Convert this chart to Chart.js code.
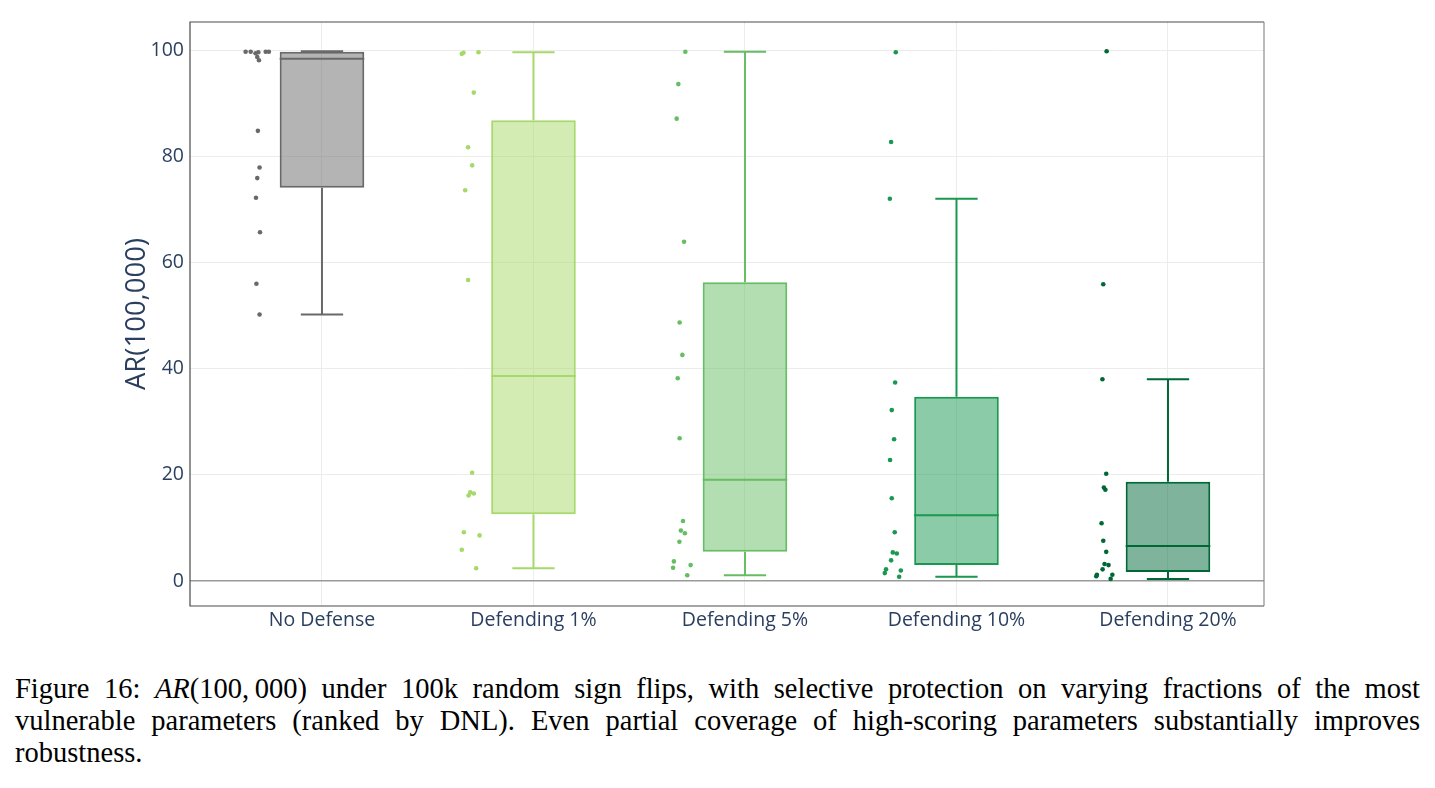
<!DOCTYPE html>
<html>
<head>
<meta charset="utf-8">
<script src="https://cdn.jsdelivr.net/npm/chart.js@4.4.1/dist/chart.umd.min.js"></script>
<style>
  body { margin: 0; background: #fff; width: 1435px; height: 788px; overflow: hidden; position: relative; }
  #wrap { position: absolute; left: 0; top: 0; width: 1435px; height: 640px; }
  #caption {
    position: absolute; left: 15px; top: 673px; width: 1405px;
    font-family: "Liberation Serif", "Times New Roman", serif;
    font-size: 28.5px; line-height: 32px; color: #000;
  }
  #caption div { text-align: justify; text-align-last: justify; white-space: nowrap; }
  #caption div.last { text-align-last: left; }
</style>
</head>
<body>
<div id="wrap"><canvas id="grafico"></canvas></div>
<div id="caption">
  <div>Figure 16: <i>AR</i>(100,&thinsp;000) under 100k random sign flips, with selective protection on varying fractions of the most</div>
  <div>vulnerable parameters (ranked by DNL). Even partial coverage of high-scoring parameters substantially improves</div>
  <div class="last">robustness.</div>
</div>
<script>
// categorias y colores de linea
const categorias = ['No Defense', 'Defending 1%', 'Defending 5%', 'Defending 10%', 'Defending 20%'];
const colores = ['#696969', '#a6d96a', '#66bd63', '#1a9850', '#006837'];
const rellenos = ['rgba(105,105,105,0.5)', 'rgba(166,217,106,0.5)', 'rgba(102,189,99,0.5)', 'rgba(26,152,80,0.5)', 'rgba(0,104,55,0.5)'];

// estadisticas de cada caja
const bigoteBajo = [50.2, 2.4, 1.1, 0.8, 0.4];
const q1 = [74.1, 12.6, 5.5, 3.0, 1.7];
const mediana = [98.4, 38.6, 19.1, 12.4, 6.6];
const q3 = [99.7, 86.8, 56.3, 34.7, 18.7];
const bigoteAlto = [99.8, 99.6, 99.7, 72.0, 38.0];

// puntos individuales
const puntosNoDef = [99.7, 99.7, 99.4, 99.6, 99.7, 99.7, 98.7, 98.1, 84.8, 77.9, 75.9, 72.2, 65.7, 56.0, 50.2];
const puntosD1 = [99.3, 99.5, 99.6, 92.0, 81.7, 78.3, 73.6, 56.7, 20.4, 16.7, 16.1, 16.5, 9.2, 8.6, 5.9, 2.4];
const puntosD5 = [99.7, 93.6, 87.1, 63.9, 48.7, 42.6, 38.2, 26.9, 11.3, 9.5, 9.0, 7.4, 3.7, 2.5, 3.0, 1.1];
const puntosD10 = [99.6, 82.7, 72.0, 37.4, 32.2, 26.7, 22.8, 15.6, 9.2, 5.4, 5.2, 3.9, 2.2, 1.5, 2.0, 0.8];
const puntosD20 = [99.8, 55.9, 38.0, 20.2, 17.6, 17.2, 10.9, 7.6, 5.5, 3.2, 3.0, 2.2, 1.2, 0.9, 1.2, 0.4];

// desplazamiento horizontal (jitter) de cada punto, en unidades de categoria
const jitterNoDef = [-0.361, -0.337, -0.314, -0.301, -0.266, -0.251, -0.306, -0.298, -0.303, -0.295, -0.306, -0.312, -0.293, -0.310, -0.295];
const jitterD1 = [-0.339, -0.331, -0.260, -0.282, -0.309, -0.290, -0.323, -0.309, -0.290, -0.299, -0.307, -0.282, -0.329, -0.255, -0.339, -0.271];
const jitterD5 = [-0.282, -0.315, -0.323, -0.288, -0.309, -0.296, -0.318, -0.309, -0.293, -0.303, -0.284, -0.310, -0.336, -0.340, -0.257, -0.273];
const jitterD10 = [-0.287, -0.309, -0.315, -0.290, -0.306, -0.295, -0.314, -0.306, -0.292, -0.301, -0.282, -0.309, -0.333, -0.339, -0.263, -0.271];
const jitterD20 = [-0.290, -0.306, -0.310, -0.292, -0.303, -0.296, -0.314, -0.306, -0.292, -0.300, -0.281, -0.309, -0.336, -0.339, -0.263, -0.271];

const yTicks = [0, 20, 40, 60, 80, 100];

const puntos = [puntosNoDef, puntosD1, puntosD5, puntosD10, puntosD20];
const jitters = [jitterNoDef, jitterD1, jitterD5, jitterD10, jitterD20];

const fuente = '"Open Sans", "Noto Sans", sans-serif';
const colorTexto = '#2a3f5f';

// Funcion para armar las lineas de mediana y bigotes de una caja
function lineasCaja(i) {
    const corte = { x: i, y: null };
    return [
        { x: i - 0.2, y: mediana[i] }, { x: i + 0.2, y: mediana[i] }, corte,
        { x: i, y: q3[i] }, { x: i, y: bigoteAlto[i] }, corte,
        { x: i - 0.1, y: bigoteAlto[i] }, { x: i + 0.1, y: bigoteAlto[i] }, corte,
        { x: i, y: q1[i] }, { x: i, y: bigoteBajo[i] }, corte,
        { x: i - 0.1, y: bigoteBajo[i] }, { x: i + 0.1, y: bigoteBajo[i] }
    ];
}

const datasets = [];

// puntos (encima de todo)
categorias.forEach((c, i) => {
    datasets.push({
        type: 'scatter',
        label: c + ' puntos',
        data: puntos[i].map((v, k) => ({ x: i + jitters[i][k], y: v })),
        backgroundColor: colores[i],
        borderWidth: 0,
        pointRadius: 2.3,
        order: 0
    });
});

// mediana y bigotes
categorias.forEach((c, i) => {
    datasets.push({
        type: 'line',
        label: c + ' bigotes',
        data: lineasCaja(i),
        borderColor: colores[i],
        borderWidth: 2,
        pointRadius: 0,
        spanGaps: false,
        fill: false,
        order: 1
    });
});

// cajas (q1 - q3)
datasets.push({
    type: 'bar',
    label: 'cajas',
    data: categorias.map((c, i) => ({ x: i, y: [q1[i], q3[i]] })),
    backgroundColor: rellenos,
    borderColor: colores,
    borderWidth: 2,
    borderSkipped: false,
    categoryPercentage: 1,
    barPercentage: 0.4,
    order: 2
});

const marco = {
    id: 'marco',
    afterDraw(chart) {
        const { ctx, chartArea: a } = chart;
        ctx.save();
        ctx.lineWidth = 1.2;
        ctx.strokeStyle = '#4a4a4a';
        ctx.beginPath();
        ctx.moveTo(a.right, a.top);
        ctx.lineTo(a.left, a.top);
        ctx.lineTo(a.left, a.bottom);
        ctx.lineTo(a.right, a.bottom);
        ctx.stroke();
        ctx.strokeStyle = '#8c8c8c';
        ctx.beginPath();
        ctx.moveTo(a.right, a.top);
        ctx.lineTo(a.right, a.bottom);
        ctx.stroke();
        ctx.restore();
    }
};

const ctx = document.getElementById('grafico').getContext('2d');
const chart = new Chart(ctx, {
    type: 'bar',
    data: { datasets: datasets },
    options: {
        responsive: true,
        maintainAspectRatio: false,
        animation: false,
        layout: { padding: { left: 121, right: 171, top: 22, bottom: 0 } },
        plugins: {
            legend: { display: false },
            tooltip: { enabled: false }
        },
        scales: {
            x: {
                type: 'linear',
                min: -0.624,
                max: 4.454,
                offset: false,
                grid: { color: '#ececec', lineWidth: 1, drawTicks: false, offset: false },
                border: { display: false },
                afterBuildTicks: scale => { scale.ticks = categorias.map((c, i) => ({ value: i })); },
                afterFit: scale => { scale.height = 34; },
                ticks: {
                    padding: 3,
                    color: colorTexto,
                    font: { family: fuente, size: 19.5 },
                    callback: v => categorias[v]
                }
            },
            y: {
                type: 'linear',
                min: -4.7,
                max: 105.3,
                grid: {
                    drawTicks: false,
                    color: c => c.tick && c.tick.value === 0 ? '#9a9a9a' : '#ececec',
                    lineWidth: c => c.tick && c.tick.value === 0 ? 1.6 : 1
                },
                border: { display: false },
                afterBuildTicks: scale => { scale.ticks = yTicks.map(v => ({ value: v })); },
                afterFit: scale => { scale.width = 69; },
                ticks: {
                    padding: 6,
                    color: colorTexto,
                    font: { family: fuente, size: 19.5 }
                },
                title: {
                    display: true,
                    text: 'AR(100,000)',
                    color: colorTexto,
                    padding: 0,
                    font: { family: fuente, size: 27.5 }
                }
            }
        }
    },
    plugins: [marco]
});
</script>
</body>
</html>
